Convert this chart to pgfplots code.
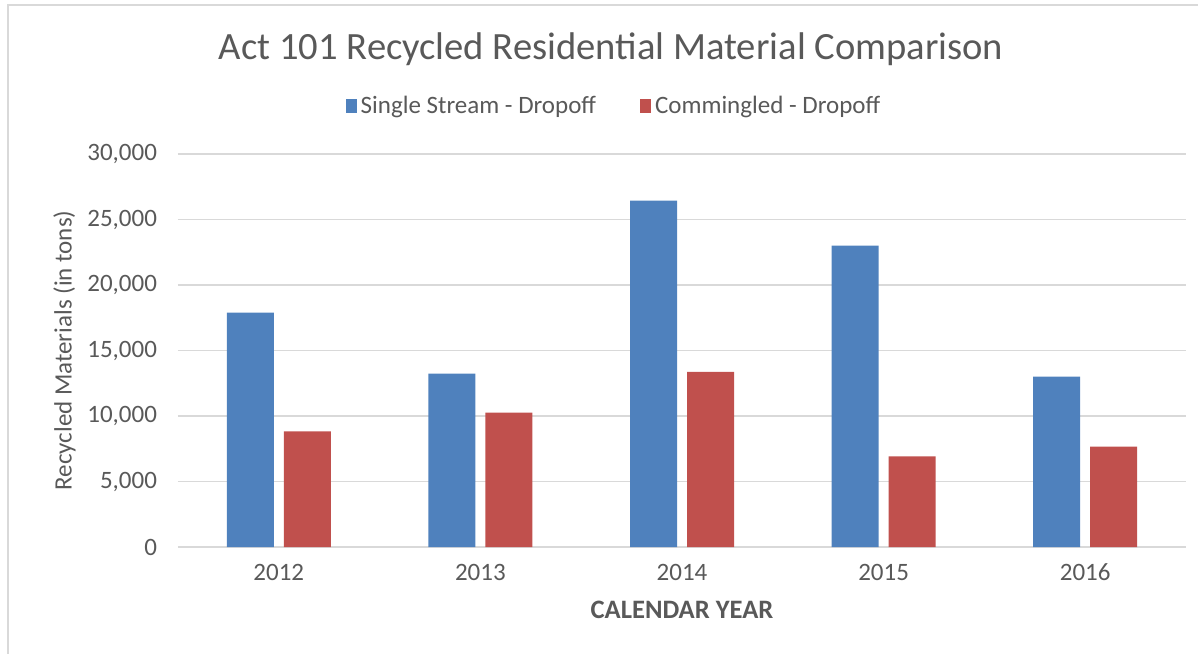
\documentclass[border=0pt]{standalone}
\usepackage{pgfplots}
\pgfplotsset{compat=1.18}
\usepackage{fontspec}
\setmainfont{Carlito}
\definecolor{sblue}{HTML}{4F81BD}
\definecolor{cred}{HTML}{C0504D}
\definecolor{txt}{HTML}{595959}
\definecolor{grd}{HTML}{D9D9D9}

\begin{document}
\begin{tikzpicture}
\useasboundingbox (-89pt,-53pt) rectangle (510pt,273.5pt);
\draw[grd, line width=0.8pt] (-85pt,-60pt) -- (-85pt,271pt) -- (520pt,271pt);
\begin{axis}[
    at={(0,0)}, anchor=south west,
    scale only axis,
    width=504pt, height=196.5pt,
    ybar=5pt,
    bar width=23.5pt,
    xmin=-0.5, xmax=4.5,
    ymin=0, ymax=30000,
    xtick=data,
    xticklabels={2012,2013,2014,2015,2016},
    ytick={0,5000,...,30000},
    scaled y ticks=false,
    ymajorgrids,
    grid style={grd, line width=0.8pt},
    axis lines*=left,
    y axis line style={draw=none},
    x axis line style={grd, line width=0.8pt},
    major tick length=0pt,
    /pgf/number format/.cd, 1000 sep={,}, assume math mode=true,
    /pgfplots/.cd,
    tick label style={font=\fontsize{12.5}{14}\selectfont, text=txt},
    yticklabel style={xshift=-7pt},
    xticklabel style={yshift=-5pt},
    xlabel={CALENDAR YEAR},
    xlabel style={font=\fontsize{13.3}{15}\selectfont\bfseries, text=txt, yshift=-3pt},
    ylabel={Recycled Materials (in tons)},
    ylabel style={font=\fontsize{12.5}{14}\selectfont, text=txt, yshift=-1pt},
    title={Act 101 Recycled Residential Material Comparison},
    title style={font=\fontsize{19.3}{22}\selectfont, text=txt, at={(0.4296,1)}, anchor=center, yshift=46.5pt},
    legend style={at={(0.4335,1)}, anchor=center, yshift=24pt, draw=none,
                  legend columns=2, font=\fontsize{12.5}{14}\selectfont, text=txt,
                  /tikz/every even column/.append style={column sep=20pt}},
    legend image code/.code={\fill[#1] (1pt,-3.3pt) rectangle (6.5pt,3.3pt);},
]
\addplot[fill=sblue, draw=none] coordinates {(0,17890) (1,13230) (2,26440) (3,23000) (4,13000)};
\addplot[fill=cred, draw=none] coordinates {(0,8830) (1,10250) (2,13360) (3,6920) (4,7660)};
\legend{Single Stream - Dropoff, Commingled - Dropoff}
\end{axis}
\end{tikzpicture}
\end{document}
